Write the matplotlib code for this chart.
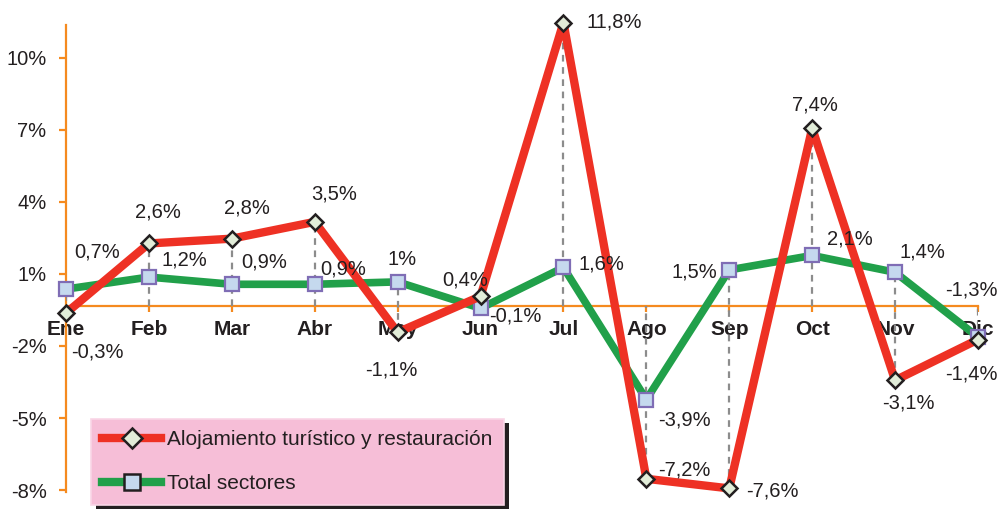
"""Variación mensual: alojamiento turístico y restauración vs total sectores."""

import matplotlib

matplotlib.use("Agg")
import matplotlib.pyplot as plt
from matplotlib.patches import Rectangle

plt.rcParams["font.family"] = ["Liberation Sans", "DejaVu Sans"]

months = ["Ene", "Feb", "Mar", "Abr", "May", "Jun",
          "Jul", "Ago", "Sep", "Oct", "Nov", "Dic"]
alojamiento = [-0.3, 2.6, 2.8, 3.5, -1.1, 0.4, 11.8, -7.2, -7.6, 7.4, -3.1, -1.4]
total = [0.7, 1.2, 0.9, 0.9, 1.0, -0.1, 1.6, -3.9, 1.5, 2.1, 1.4, -1.3]
series_names = ["Alojamiento turístico y restauración", "Total sectores"]

# the original axis puts its ticks at odd values and rounds the labels
y_ticks = [-7.67, -4.67, -1.67, 1.33, 4.33, 7.33, 10.33]
y_tick_labels = ["-8%", "-5%", "-2%", "1%", "4%", "7%", "10%"]

# label offsets in pixels (dx, dy)
off_red = [(31, -39), (9, 31), (15, 31), (19, 28), (-6, -38), (-15, 16),
           (51, 1), (38, 9), (43, -3), (3, 23), (13, -23), (-7, -34)]
off_green = [(31, 37), (35, 17), (32, 22), (28, 15), (4, 22), (35, -8),
             (38, 3), (38, -20), (-35, -2), (38, 16), (27, 20), (-7, 47)]

RED = "#EE3124"
GREEN = "#21A04A"
ORANGE = "#F58A1F"
TEXT = "#231F20"
PINK = "#F6BED7"
FS = 14.5


def fmt(v):
    s = f"{v:.1f}".replace(".", ",")
    if s.endswith(",0"):
        s = s[:-2]
    return s + "%"


fig = plt.figure(figsize=(10, 5.09), dpi=100)
ax = fig.add_axes([0.066, 0.0334, 0.912, 0.9176])
x = list(range(len(months)))

# drop lines
for xi, a, t in zip(x, alojamiento, total):
    lo, hi = min(0, a, t), max(0, a, t)
    ax.plot([xi, xi], [lo, hi], color="#8C8C8C", lw=1.6,
            ls=(0, (3, 2.5)), zorder=3)

ax.plot(x, total, color=GREEN, lw=5.5, zorder=4, solid_capstyle="butt")
ax.plot(x, total, ls="none", marker="s", ms=10, mfc="#C5D9EE",
        mec="#7F6DB5", mew=1.6, zorder=5, clip_on=False)
ax.plot(x, alojamiento, color=RED, lw=6, zorder=6, solid_capstyle="butt")
ax.plot(x, alojamiento, ls="none", marker="D", ms=8.5, mfc="#E2EDD9",
        mec="#231F20", mew=1.8, zorder=7, clip_on=False)

for xi, v, (dx, dy) in zip(x, alojamiento, off_red):
    ax.annotate(fmt(v), (xi, v), xytext=(dx, dy), textcoords="offset pixels",
                ha="center", va="center", fontsize=FS, color=TEXT,
                zorder=8, annotation_clip=False)
for xi, v, (dx, dy) in zip(x, total, off_green):
    ax.annotate(fmt(v), (xi, v), xytext=(dx, dy), textcoords="offset pixels",
                ha="center", va="center", fontsize=FS, color=TEXT,
                zorder=8, annotation_clip=False)

ax.set_xlim(0, 11)
ax.set_ylim(-7.75, 11.7)
ax.set_facecolor("none")

for side in ("top", "right"):
    ax.spines[side].set_visible(False)
ax.spines["left"].set_color(ORANGE)
ax.spines["left"].set_linewidth(1.6)
ax.spines["bottom"].set_position(("data", 0))
ax.spines["bottom"].set_color(ORANGE)
ax.spines["bottom"].set_linewidth(1.6)
ax.spines["bottom"].set_zorder(2)

ax.set_xticks(x)
ax.set_xticklabels(months, fontsize=15, fontweight="bold", color=TEXT)
ax.tick_params(axis="x", direction="out", length=4, width=1.6,
               color=ORANGE, pad=6)
for lab in ax.get_xticklabels():
    lab.set_zorder(9)
ax.set_yticks(y_ticks)
ax.set_yticklabels(y_tick_labels, fontsize=FS, color=TEXT)
ax.tick_params(axis="y", direction="out", length=5, width=1.6,
               color=ORANGE, pad=9)

h_red, = ax.plot([], [], color=RED, lw=6, marker="D", ms=10,
                 mfc="#E2EDD9", mec="#231F20", mew=1.8)
h_green, = ax.plot([], [], color=GREEN, lw=6, marker="s", ms=12,
                   mfc="#C5D9EE", mec="#231F20", mew=1.8)
leg = fig.legend([h_red, h_green], series_names, loc="lower left",
                 bbox_to_anchor=(0.091, 0.008), bbox_transform=fig.transFigure,
                 borderaxespad=0, fontsize=15, frameon=True, fancybox=False,
                 facecolor=PINK, edgecolor="#F9D6E6", framealpha=1,
                 handlelength=2.8, handletextpad=0.3, labelspacing=1.2,
                 borderpad=0.55)
leg.get_frame().set_linewidth(1.2)
for t in leg.get_texts():
    t.set_color(TEXT)
leg.set_zorder(20)

fig.canvas.draw()
bb = leg.get_window_extent()
shadow = Rectangle((bb.x0 + 5, bb.y0 - 4), bb.width, bb.height,
                   transform=None, facecolor="#231F20", edgecolor="none",
                   zorder=19)
fig.add_artist(shadow)

fig.savefig("out.png", dpi=100)
plt.close(fig)
